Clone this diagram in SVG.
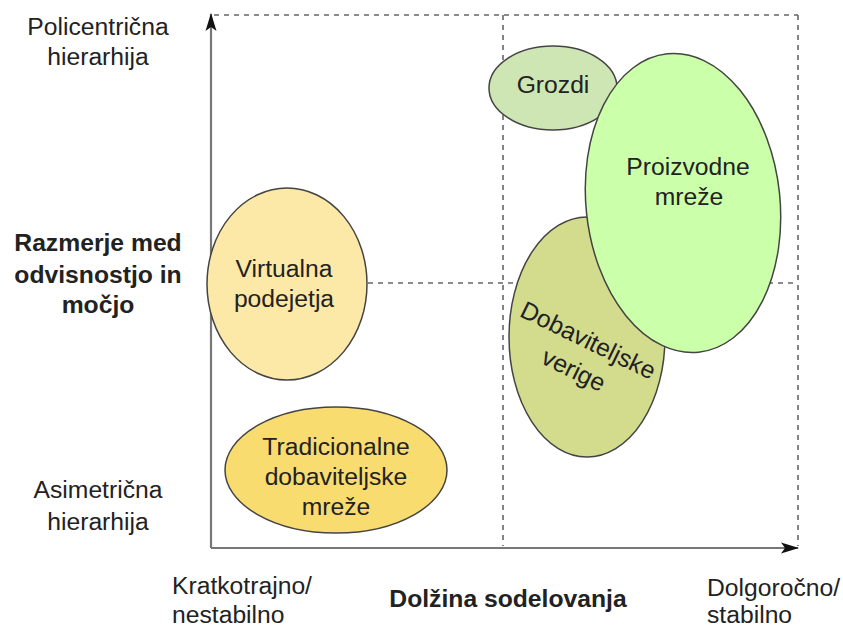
<svg xmlns="http://www.w3.org/2000/svg" width="843" height="628" viewBox="0 0 843 628">
<style>
.t{font-family:"Liberation Sans",Arial,sans-serif;font-size:24.7px;fill:#222;text-anchor:middle}
.b{font-weight:bold}
.l{text-anchor:start}
.n{stroke:#444;stroke-width:1.5}
.d{stroke:#666;stroke-width:1.6;stroke-dasharray:5,5;fill:none}
.ax{stroke:#777;stroke-width:2.2;fill:none}
</style>
<defs>
<marker id="ah" viewBox="0 0 18 12" refX="17" refY="6" markerWidth="18" markerHeight="12" markerUnits="userSpaceOnUse" orient="auto">
<path d="M0,0.5 L18,6 L0,11.5 L4,6 z" fill="#111"/>
</marker>
</defs>
<g id="connectors">
<line class="d" x1="214" y1="15" x2="798" y2="15"/>
<line class="d" x1="798" y1="15" x2="798" y2="546"/>
<line class="d" x1="503" y1="15" x2="503" y2="546"/>
<line class="d" x1="368" y1="283" x2="798" y2="283"/>
<line class="ax" x1="211" y1="548" x2="211" y2="14" marker-end="url(#ah)"/>
<line class="ax" x1="211" y1="548" x2="798" y2="548" marker-end="url(#ah)"/>
</g>
<g id="virtualna">
<ellipse class="n" cx="287" cy="284" rx="80" ry="96" fill="#fde9a7"/>
<text class="t" x="284" y="277">Virtualna</text>
<text class="t" x="284" y="307">podejetja</text>
</g>
<g id="tradicionalne">
<ellipse class="n" cx="336" cy="470" rx="111" ry="63" fill="#f9dc70"/>
<text class="t" x="336" y="455">Tradicionalne</text>
<text class="t" x="336" y="485">dobaviteljske</text>
<text class="t" x="336" y="515">mreže</text>
</g>
<g id="grozdi">
<ellipse class="n" cx="553" cy="88" rx="64" ry="42" fill="#cde6b4"/>
<text class="t" x="553" y="93">Grozdi</text>
</g>
<g id="dobaviteljske">
<ellipse class="n" cx="587" cy="337" rx="78" ry="120" fill="#d3db8d"/>
<g transform="translate(581,355) rotate(26)">
<text class="t" x="0" y="-8">Dobaviteljske</text>
<text class="t" x="0" y="25">verige</text>
</g>
</g>
<g id="proizvodne">
<ellipse class="n" cx="683" cy="203" rx="97" ry="150" fill="#ccffaa" transform="rotate(-6 683 203)"/>
<text class="t" x="688" y="175">Proizvodne</text>
<text class="t" x="689" y="205">mreže</text>
</g>
<g id="labels">
<text class="t" x="98" y="35">Policentrična</text>
<text class="t" x="98" y="65">hierarhija</text>
<text class="t b" x="98" y="251">Razmerje med</text>
<text class="t b" x="98" y="283">odvisnostjo in</text>
<text class="t b" x="98" y="313">močjo</text>
<text class="t" x="98" y="498">Asimetrična</text>
<text class="t" x="98" y="530">hierarhija</text>
<text class="t l" x="172" y="594">Kratkotrajno/</text>
<text class="t l" x="172" y="623">nestabilno</text>
<text class="t b" x="508" y="607">Dolžina sodelovanja</text>
<text class="t l" x="707" y="596">Dolgoročno/</text>
<text class="t l" x="707" y="623">stabilno</text>
</g>
</svg>
